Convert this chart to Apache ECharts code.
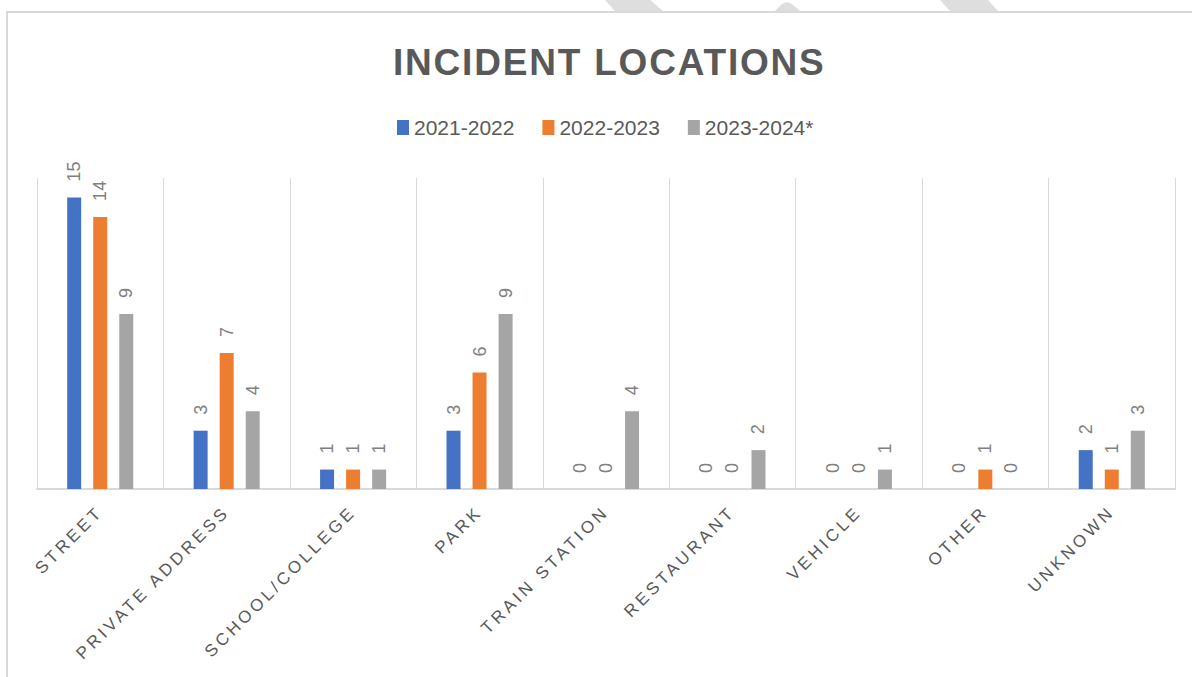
<!DOCTYPE html>
<html>
<head>
<meta charset="utf-8">
<title>Incident locations</title>
<script src="https://cdn.jsdelivr.net/npm/echarts@6/dist/echarts.min.js"></script>
<style>
  html, body { margin: 0; padding: 0; background: #fff; }
  #chart { width: 1192px; height: 677px; }
</style>
</head>
<body>
<div id="chart"></div>
<script>
const categories = ['STREET', 'PRIVATE ADDRESS', 'SCHOOL/COLLEGE', 'PARK', 'TRAIN STATION', 'RESTAURANT', 'VEHICLE', 'OTHER', 'UNKNOWN']
const seriesNames = ['2021-2022', '2022-2023', '2023-2024*']
const values2122 = [15, 3, 1, 3, 0, 0, 0, 0, 2]
const values2223 = [14, 7, 1, 6, 0, 0, 0, 1, 1]
const values2324 = [9, 4, 1, 9, 4, 2, 1, 0, 3]
const colors = ['#4472C4', '#ED7D31', '#A5A5A5']

const FONT = '"Liberation Sans", Arial, sans-serif'
const titleText = 'INCIDENT LOCATIONS'

const barSeries = (name, data, color) => ({
    name,
    type: 'bar',
    data,
    barWidth: 14,
    barGap: '86%',
    itemStyle: { color },
    label: {
        show: true,
        position: 'top',
        rotate: 90,
        align: 'left',
        verticalAlign: 'middle',
        distance: 16,
        color: '#808080',
        fontSize: 18,
        fontFamily: FONT
    }
})

// light watermark bits poking above the chart frame
const stripes = [
    [[605, 0], [650, 0], [663, 11], [615, 11]],
    [[775, 11], [782, 4], [787, 2], [792, 4], [800, 11]],
    [[940, 0], [988, 0], [998, 11], [950, 11]]
]

const option = {
    animation: false,
    backgroundColor: '#fff',
    title: {
        text: titleText,
        left: 388,
        top: 39,
        textStyle: { fontFamily: FONT, fontSize: 37, fontWeight: 'bold', color: '#595959' }
    },
    legend: {
        top: 112,
        left: 392,
        itemWidth: 12,
        itemHeight: 15,
        itemGap: 28,
        icon: 'rect',
        textStyle: { fontFamily: FONT, fontSize: 21, color: '#595959' },
        data: seriesNames
    },
    grid: { left: 37, right: 17, top: 178, bottom: 188 },
    xAxis: {
        type: 'category',
        data: categories,
        axisTick: { show: false },
        axisLine: { lineStyle: { color: '#d9d9d9', width: 2 } },
        splitLine: { show: true, lineStyle: { color: '#d9d9d9', width: 1 } },
        axisLabel: {
            interval: 0,
            rotate: 45,
            margin: 20,
            fontFamily: FONT,
            fontSize: 17,
            color: '#595959'
        }
    },
    yAxis: { type: 'value', min: 0, max: 16, show: false },
    graphic: [
        ...stripes.map(points => ({
            type: 'polygon',
            z: -10,
            shape: { points },
            style: { fill: '#dedede' }
        })),
        {
            type: 'rect',
            z: -5,
            shape: { x: 7, y: 12, width: 1200, height: 700 },
            style: { fill: '#fff', stroke: '#d9d9d9', lineWidth: 2 }
        }
    ],
    series: [
        barSeries(seriesNames[0], values2122, colors[0]),
        barSeries(seriesNames[1], values2223, colors[1]),
        barSeries(seriesNames[2], values2324, colors[2])
    ]
}

const chart = echarts.init(document.getElementById('chart'), null, { renderer: 'svg' })
chart.setOption(option)

// ECharts has no letter spacing, so set it on the svg text nodes
const spacing = new Map(categories.map(c => [c, '3.5px']))
spacing.set(titleText, '1.8px')
const spaceText = () => {
    document.querySelectorAll('#chart text').forEach(t => {
        const s = spacing.get(t.textContent)
        if (s) t.setAttribute('letter-spacing', s)
    })
}
spaceText()
chart.on('finished', spaceText)
</script>
</body>
</html>
